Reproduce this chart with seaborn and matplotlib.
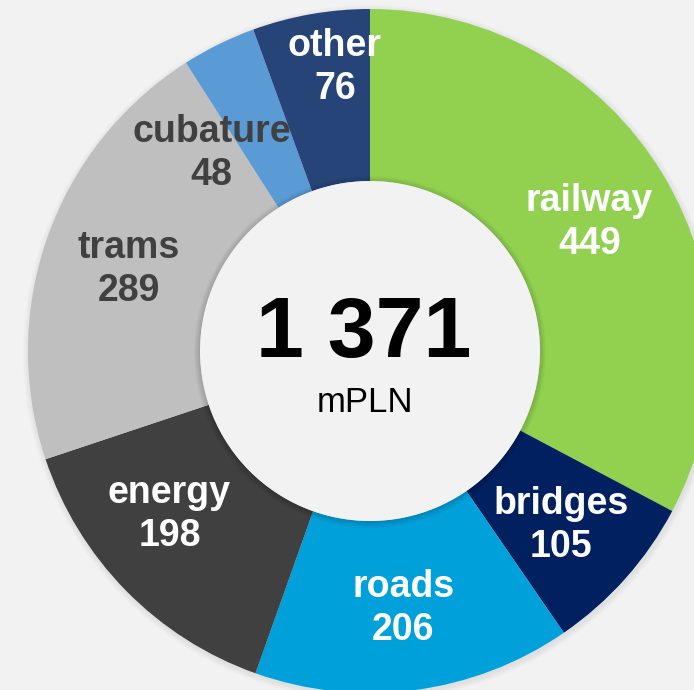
import numpy as np
import matplotlib
matplotlib.use("Agg")
import matplotlib.pyplot as plt
import seaborn as sns
from matplotlib.patches import Circle

# Data
categories = ["railway", "bridges", "roads", "energy", "trams", "cubature", "other"]
values = [449, 105, 206, 198, 289, 48, 76]
colors = ["#92D050", "#002060", "#00A0DA", "#404040", "#BFBFBF", "#5B9BD5", "#264478"]
label_colors = ["white", "white", "white", "white", "#404040", "#404040", "white"]
total_text = "1 371"
unit_text = "mPLN"

sns.set_theme(style="white")
plt.rcParams["font.family"] = ["Liberation Sans", "DejaVu Sans"]

bg = "#F2F2F2"
fig = plt.figure(figsize=(6.94, 6.90), dpi=100, facecolor=bg)
ax = fig.add_axes([0, 0, 1, 1])
ax.set_facecolor(bg)

cx, cy = 370, 339
r_out, r_in = 342, 170

# soft outer shadow
for k in range(6, 0, -1):
    ax.add_patch(Circle((cx + 1, cy - 2), r_out + k, color="black", alpha=0.012, lw=0, zorder=0))

labels = [f"{c}\n{v}" for c, v in zip(categories, values)]
wedges, texts = ax.pie(
    values, labels=labels, colors=colors, startangle=90, counterclock=False,
    center=(cx, cy), radius=r_out, labeldistance=(r_out + r_in) / 2 / r_out,
    wedgeprops=dict(width=r_out - r_in, linewidth=0),
    textprops=dict(fontsize=27, fontweight="bold", ha="center", va="center"),
    frame=True,
)
ax.set_xlim(0, 694)
ax.set_ylim(0, 690)
ax.set_aspect("equal")
ax.axis("off")

# nudges (degrees ccw, radial px) to follow the original label placement
nudge = {"energy": (-6, 0), "cubature": (12, 0), "other": (-3, 34)}
for t, c, w, name in zip(texts, label_colors, wedges, categories):
    t.set_color(c)
    t.set_linespacing(1.25)
    dang, drad = nudge.get(name, (0, 0))
    mid = np.deg2rad((w.theta1 + w.theta2) / 2 + dang)
    rr = (r_out + r_in) / 2 + drad
    t.set_position((cx + rr * np.cos(mid), cy + rr * np.sin(mid) - 4))

# inner disk with a faint shadow edge
for k in range(6, 0, -1):
    ax.add_patch(Circle((cx, cy - 1), r_in + k, color="black", alpha=0.025, lw=0, zorder=3))
ax.add_patch(Circle((cx, cy), r_in, color=bg, lw=0, zorder=4))

ax.text(cx - 6, cy + 16, total_text, fontsize=62, fontweight="bold", color="black",
        ha="center", va="center", zorder=5)
ax.text(cx - 5, cy - 51, unit_text, fontsize=25, color="black",
        ha="center", va="center", zorder=5)

fig.savefig("out.png", dpi=100, facecolor=bg)
